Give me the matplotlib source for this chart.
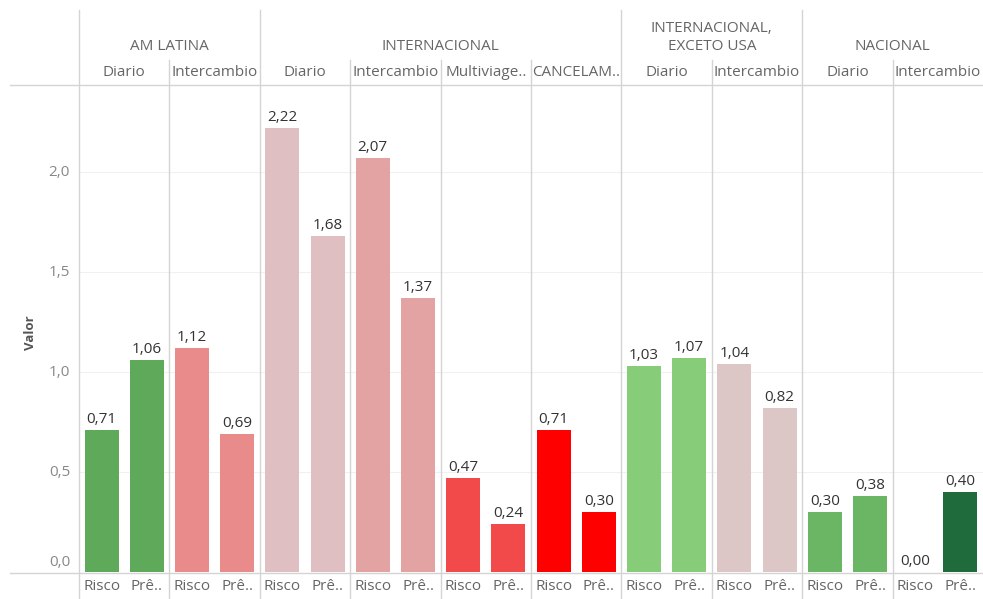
import matplotlib
matplotlib.use("Agg")
import matplotlib.pyplot as plt
from matplotlib.lines import Line2D

# Data
groups = ["AM LATINA", "INTERNACIONAL", "INTERNACIONAL,\nEXCETO USA", "NACIONAL"]
group_spans = [2, 4, 2, 2]  # number of sub-columns per group
subcats = ["Diario", "Intercambio",
           "Diario", "Intercambio", "Multiviage..", "CANCELAM..",
           "Diario", "Intercambio",
           "Diario", "Intercambio"]
measures = ["Risco", "Prê.."]
risco = [0.71, 1.12, 2.22, 2.07, 0.47, 0.71, 1.03, 1.04, 0.30, 0.00]
premio = [1.06, 0.69, 1.68, 1.37, 0.24, 0.30, 1.07, 0.82, 0.38, 0.40]
risco_colors = ["#5fa95a", "#e88b8a", "#dfbfc2", "#e4a3a3", "#f24a4a",
                "#ff0000", "#86cc79", "#dcc6c6", "#6bb664", "#6bb664"]
premio_colors = ["#5fa95a", "#e88b8a", "#dfbfc2", "#e4a3a3", "#f24a4a",
                 "#ff0000", "#86cc79", "#dcc6c6", "#6bb664", "#1f6b3c"]
yticks = [0.0, 0.5, 1.0, 1.5, 2.0]

FONT = "Open Sans"
HDR = 11
W, H = 983, 599
fig = plt.figure(figsize=(W / 100, H / 100), dpi=100)

def fx(px):
    return px / W

def fy(py):
    return 1 - py / H

left_px, right_px, top_px, bot_px = 79, 983, 85, 573
ax = fig.add_axes([fx(left_px), fy(bot_px), fx(right_px) - fx(left_px), fy(top_px) - fy(bot_px)])
n = len(subcats)
ppu = 200.0  # pixels per value unit
ax.set_xlim(0, n)
ax.set_ylim(-1 / ppu, (bot_px - top_px - 1) / ppu)
for s in ax.spines.values():
    s.set_visible(False)
ax.set_xticks([])
ax.set_yticks([])

# Faint gridlines
for t in yticks[1:]:
    ax.axhline(t, color="#f0f0f0", lw=0.8, zorder=0)

bw = 0.375
for i in range(n):
    for j, (vals, cols) in enumerate([(risco, risco_colors), (premio, premio_colors)]):
        v = vals[i]
        xc = i + 0.25 + 0.5 * j
        if v > 0:
            ax.bar(xc, v, width=bw, color=cols[i], zorder=2)
        ax.annotate(f"{v:.2f}".replace(".", ","), (xc, v), xytext=(0, 2),
                    textcoords="offset points", ha="center", va="bottom",
                    fontsize=11, color="#333333", family=FONT, zorder=3)

# Y tick labels drawn in figure space
for t in yticks:
    py = bot_px - 1 - t * ppu
    if t == 0:
        py = 563
    fig.text(fx(70), fy(py), f"{t:.1f}".replace(".", ","), ha="right", va="center",
             fontsize=11, color="#888888", family=FONT)

fig.text(fx(31), fy(333), "Valor", rotation=90, ha="center", va="center",
         fontsize=9.5, color="#555555", family=FONT, fontweight="bold")

line_col = "#d4d4d4"
# Horizontal rules
fig.add_artist(Line2D([fx(10), 1], [fy(85), fy(85)], color=line_col, lw=1))
fig.add_artist(Line2D([fx(10), 1], [fy(573), fy(573)], color=line_col, lw=1))

# Vertical dividers
col_w = (right_px - left_px) / n
group_edges = [0]
for s in group_spans:
    group_edges.append(group_edges[-1] + s)
for k in range(n):
    px = left_px + k * col_w
    top = 10 if k in group_edges else 60
    fig.add_artist(Line2D([fx(px), fx(px)], [fy(top), fy(599)], color=line_col, lw=1))

# Group headers
for gi, g in enumerate(groups):
    cx = left_px + (group_edges[gi] + group_edges[gi + 1]) / 2 * col_w
    if "\n" in g:
        l1, l2 = g.split("\n")
        fig.text(fx(cx), fy(28), l1, ha="center", va="center", fontsize=HDR,
                 color="#666666", family=FONT)
        fig.text(fx(cx), fy(47), l2, ha="center", va="center", fontsize=HDR,
                 color="#666666", family=FONT)
    else:
        fig.text(fx(cx), fy(47), g, ha="center", va="center", fontsize=HDR,
                 color="#666666", family=FONT)

# Sub-category headers and measure labels
for k, sc in enumerate(subcats):
    cx = left_px + (k + 0.5) * col_w
    fig.text(fx(cx), fy(73), sc, ha="center", va="center", fontsize=HDR,
             color="#666666", family=FONT)
    for j, m in enumerate(measures):
        mx = left_px + (k + 0.25 + 0.5 * j) * col_w
        fig.text(fx(mx), fy(587), m, ha="center", va="center", fontsize=HDR,
                 color="#666666", family=FONT)

fig.savefig("out.png", dpi=100)
